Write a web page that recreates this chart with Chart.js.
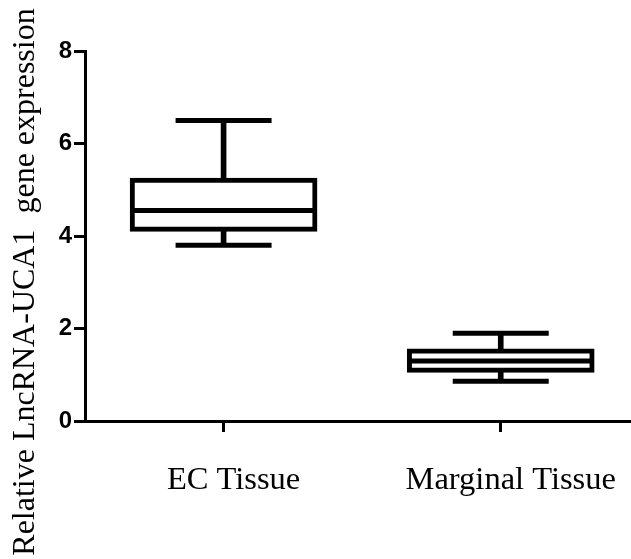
<!DOCTYPE html>
<html>
<head>
<meta charset="utf-8">
<script src="https://cdn.jsdelivr.net/npm/chart.js@4.4.0/dist/chart.umd.min.js"></script>
<style>
  body { margin: 0; background: #fff; }
  canvas { display: block; }
</style>
</head>
<body>
<canvas id="boxChart" width="631" height="559"></canvas>
<script>
// values (box plot: whiskers, quartiles, median)
var categories = ['EC Tissue', 'Marginal Tissue'];
var whiskerLow = [3.8, 0.86];
var boxLow = [4.1, 1.05];
var medians = [4.55, 1.3];
var boxHigh = [5.25, 1.56];
var whiskerHigh = [6.5, 1.9];
var yTicks = [0, 2, 4, 6, 8];

//each group sits at x = 1, 2, ...
function pos(i) { return i + 1; }

var boxData = categories.map(function(c, i) { return {x: pos(i), y: [boxLow[i], boxHigh[i]]}; });
var stemData = categories.map(function(c, i) { return {x: pos(i), y: [whiskerLow[i], whiskerHigh[i]]}; });
var medianData = categories.map(function(c, i) { return {x: pos(i), y: medians[i]}; });
var capData = [];
categories.forEach(function(c, i) {
  capData.push({x: pos(i), y: whiskerLow[i]});
  capData.push({x: pos(i), y: whiskerHigh[i]});
});

var serif = "'Liberation Serif', 'Times New Roman', serif";
var sans = "'Liberation Sans', Arial, sans-serif";

var config = {
  type: 'bar',
  data: {
    datasets: [
      {
        type: 'scatter',
        data: medianData,
        order: 0,
        pointStyle: 'line',
        pointRadius: 93,
        pointHoverRadius: 93,
        pointBorderWidth: 5,
        pointHoverBorderWidth: 5,
        pointBorderColor: '#000',
        pointBackgroundColor: '#000'
      },
      {
        data: boxData,
        order: 1,
        grouped: false,
        barThickness: 187,
        backgroundColor: '#fff',
        borderColor: '#000',
        borderWidth: 5,
        borderSkipped: false
      },
      {
        type: 'scatter',
        data: capData,
        order: 2,
        pointStyle: 'line',
        pointRadius: 48,
        pointHoverRadius: 48,
        pointBorderWidth: 5,
        pointHoverBorderWidth: 5,
        pointBorderColor: '#000',
        pointBackgroundColor: '#000'
      },
      {
        data: stemData,
        order: 3,
        grouped: false,
        barThickness: 5,
        backgroundColor: '#000',
        borderWidth: 0
      }
    ]
  },
  options: {
    responsive: false,
    animation: false,
    // the wide line markers would otherwise add big padding round the plot
    layout: { autoPadding: false, padding: { top: 5, right: 0, bottom: 0, left: 0 } },
    plugins: {
      legend: { display: false },
      tooltip: { enabled: false },
      title: {
        display: true,
        position: 'left',
        text: 'Relative LncRNA-UCA1  gene expression',
        color: '#000',
        font: { family: serif, size: 32, weight: 'normal', lineHeight: '38px' },
        padding: { top: 7, bottom: 0 }
      },
      //empty block on top so the plot starts lower while the y title stays centred on the page
      subtitle: {
        display: true,
        position: 'top',
        text: '',
        font: { size: 10, lineHeight: '46px' },
        padding: 0
      }
    },
    scales: {
      x: {
        type: 'linear',
        min: 0.5,
        max: 2.47,
        offset: false,
        afterBuildTicks: function(scale) {
          scale.ticks = categories.map(function(c, i) { return {value: pos(i)}; });
        },
        afterFit: function(scale) {
          scale.height = 138;
          // axis runs right to the edge like the original
          scale.paddingLeft = 0;
          scale.paddingRight = 0;
        },
        ticks: {
          color: '#000',
          font: { family: serif, size: 32.5 },
          padding: 29,
          labelOffset: 10,
          maxRotation: 0,
          callback: function(v) { return categories[v - 1]; }
        },
        grid: { offset: false, drawOnChartArea: false, drawTicks: true, tickLength: 11, color: '#000', lineWidth: 3 },
        border: { display: true, color: '#000', width: 3 }
      },
      y: {
        min: 0,
        max: 8,
        afterBuildTicks: function(scale) {
          scale.ticks = yTicks.map(function(v) { return {value: v}; });
        },
        afterFit: function(scale) { scale.width = 40; },
        ticks: {
          color: '#000',
          font: { family: sans, size: 24, weight: 'bold' },
          padding: 2
        },
        grid: { drawOnChartArea: false, drawTicks: true, tickLength: 11, color: '#000', lineWidth: 3 },
        border: { display: true, color: '#000', width: 3 }
      }
    }
  }
};

var boxChart = new Chart(document.getElementById('boxChart'), config);
</script>
</body>
</html>
